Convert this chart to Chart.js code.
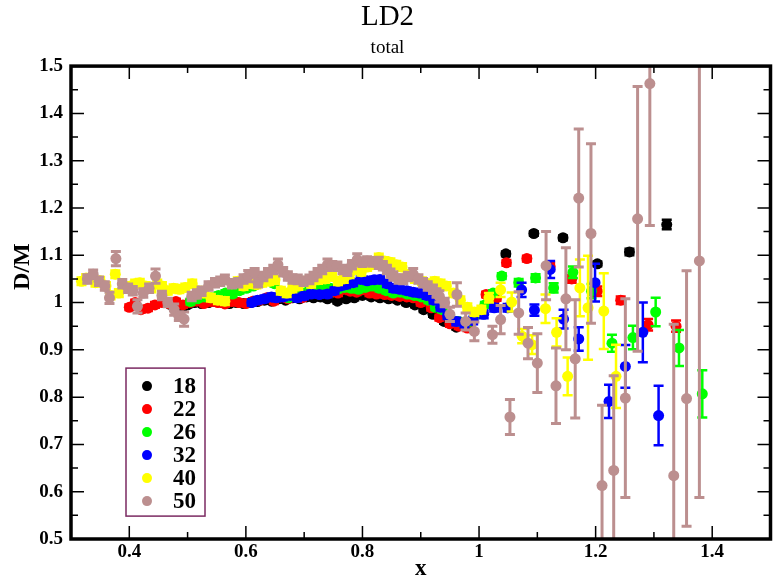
<!DOCTYPE html>
<html>
<head>
<meta charset="utf-8">
<title>LD2 total</title>
<script src="https://cdn.jsdelivr.net/npm/chart.js@4.4.1/dist/chart.umd.min.js"></script>
<style>
  html, body { margin: 0; padding: 0; background: #fff; overflow: hidden; }
  canvas { display: block; }
</style>
</head>
<body>
<canvas id="chart" width="776" height="584"></canvas>
<script>
// series labels and colours
const seriesLabels = ["18", "22", "26", "32", "40", "50"];
const seriesColors = ["#000000", "#ff0000", "#00ff00", "#0000ff", "#ffff00", "#bc8f8f"];

// tick values and labels
const xTicks = [0.4, 0.6, 0.8, 1.0, 1.2, 1.4];
const xTickLabels = ["0.4", "0.6", "0.8", "1", "1.2", "1.4"];
const yTicks = [0.5, 0.6, 0.7, 0.8, 0.9, 1.0, 1.1, 1.2, 1.3, 1.4, 1.5];
const yTickLabels = ["0.5", "0.6", "0.7", "0.8", "0.9", "1", "1.1", "1.2", "1.3", "1.4", "1.5"];

// 18
const x18 = [0.470,0.480,0.490,0.500,0.512,0.524,0.536,0.548,0.560,0.572,0.584,0.596,0.608,0.620,0.632,0.644,0.656,0.668,0.680,0.692,0.704,0.716,0.728,0.740,
  0.757,0.772,0.786,0.800,0.815,0.830,0.845,0.860,0.875,0.890,0.905,0.921,0.940,0.961,0.980,1.005,1.025,1.046,1.094,1.144,1.203,1.258,1.322];
const y18 = [0.996,0.992,0.988,0.995,1.000,0.998,1.000,1.002,1.000,0.998,1.000,0.998,1.000,1.002,1.005,1.003,1.008,1.005,1.010,1.008,1.012,1.010,1.012,1.008,
  1.003,1.008,1.010,1.015,1.012,1.010,1.008,1.005,1.000,0.995,0.985,0.975,0.960,0.948,0.955,0.985,1.000,1.103,1.146,1.137,1.082,1.107,1.165];
const e18 = [0.005,0.005,0.005,0.005,0.005,0.005,0.005,0.005,0.005,0.005,0.005,0.005,0.005,0.005,0.005,0.005,0.005,0.005,0.005,0.005,0.005,0.005,0.005,0.005,
  0.005,0.005,0.005,0.005,0.005,0.005,0.005,0.005,0.005,0.005,0.005,0.005,0.005,0.005,0.005,0.005,0.005,0.005,0.005,0.005,0.005,0.007,0.010];

// 22
const x22 = [0.400,0.410,0.420,0.432,0.444,0.456,0.468,0.480,0.492,0.504,0.516,0.528,0.540,0.552,0.564,0.576,0.588,0.600,0.612,0.624,0.636,0.648,0.660,0.672,0.684,0.696,0.708,0.720,
  0.734,0.746,0.758,0.770,0.779,0.790,0.800,0.812,0.824,0.838,0.850,0.864,0.876,0.887,0.900,0.918,0.932,0.950,0.965,0.980,0.995,1.012,1.030,
  1.047,1.082,1.122,1.159,1.203,1.243,1.290,1.338];
const y22 = [0.990,1.000,0.985,0.988,0.995,1.000,0.998,1.002,0.995,1.000,1.003,0.998,1.002,1.000,0.997,1.002,1.000,0.998,1.003,1.005,1.010,1.003,1.012,1.008,1.015,1.010,1.020,1.025,
  1.031,1.025,1.020,1.028,1.024,1.022,1.027,1.020,1.018,1.017,1.015,1.013,1.012,1.010,1.000,0.989,0.968,0.955,0.950,0.946,0.975,1.017,1.010,
  1.084,1.093,1.076,1.050,1.024,1.005,0.953,0.950];
const e22 = [0.006,0.006,0.006,0.006,0.006,0.006,0.006,0.006,0.006,0.006,0.006,0.006,0.006,0.006,0.006,0.006,0.006,0.006,0.006,0.006,0.006,0.006,0.006,0.006,0.006,0.006,0.006,0.006,
  0.006,0.006,0.006,0.006,0.006,0.006,0.006,0.006,0.006,0.006,0.006,0.006,0.006,0.006,0.006,0.006,0.006,0.006,0.006,0.006,0.006,0.006,0.006,
  0.006,0.006,0.008,0.008,0.010,0.008,0.012,0.012];

// 26
const x26 = [0.505,0.517,0.529,0.541,0.553,0.565,0.577,0.589,0.601,0.613,0.625,0.637,0.649,0.661,0.673,0.685,0.697,0.709,0.721,0.733,0.745,0.757,0.769,0.781,0.793,0.805,0.817,0.829,0.841,0.853,0.865,0.877,0.889,0.901,0.913,0.925,0.937,
  0.950,0.965,0.980,0.995,1.010,1.024,1.039,1.068,1.097,1.128,1.161,1.193,1.228,1.264,1.303,1.343,1.383];
const y26 = [1.002,1.008,1.012,1.010,1.015,1.020,1.018,1.025,1.030,1.035,1.045,1.055,1.040,1.020,1.010,1.015,1.020,1.025,1.030,1.035,1.030,1.028,1.032,1.030,1.028,1.032,1.035,1.030,1.025,1.020,1.022,1.018,1.015,1.012,1.005,0.990,0.985,
  0.970,0.960,0.958,0.975,0.995,1.020,1.056,1.042,1.052,1.031,1.064,1.024,0.914,0.926,0.980,0.904,0.807];
const e26 = [0.006,0.006,0.006,0.006,0.006,0.006,0.006,0.006,0.006,0.006,0.006,0.006,0.006,0.006,0.006,0.006,0.006,0.006,0.006,0.006,0.006,0.006,0.006,0.006,0.006,0.006,0.006,0.006,0.006,0.006,0.006,0.006,0.006,0.006,0.006,0.006,0.006,
  0.006,0.006,0.006,0.006,0.006,0.006,0.006,0.008,0.008,0.010,0.012,0.015,0.018,0.025,0.030,0.038,0.050];

// 32
const x32 = [0.610,0.620,0.632,0.644,0.652,0.664,0.676,0.688,0.700,0.712,0.726,0.740,0.752,0.762,0.772,0.784,0.797,0.808,0.820,0.830,0.842,0.853,0.864,0.876,0.887,0.898,0.910,0.922,0.934,0.946,
  0.961,0.975,0.990,1.008,1.026,1.049,1.073,1.095,1.122,1.145,1.171,1.199,1.223,1.251,1.281,1.308];
const y32 = [1.000,1.005,1.008,1.012,1.010,1.012,1.015,1.010,1.014,1.018,1.017,1.018,1.025,1.035,1.038,1.042,1.049,1.046,1.048,1.049,1.040,1.030,1.028,1.025,1.022,1.020,1.015,1.005,0.990,0.972,
  0.960,0.955,0.962,0.975,0.989,0.989,1.027,0.984,1.070,0.965,0.923,1.042,0.791,0.865,0.937,0.761];
const e32 = [0.007,0.007,0.007,0.007,0.007,0.007,0.007,0.007,0.007,0.007,0.007,0.007,0.007,0.007,0.007,0.007,0.007,0.007,0.007,0.007,0.007,0.007,0.007,0.007,0.007,0.007,0.007,0.007,0.007,0.007,
  0.008,0.008,0.008,0.008,0.008,0.008,0.015,0.012,0.018,0.020,0.025,0.040,0.035,0.045,0.063,0.063];

// 40
const x40 = [0.318,0.326,0.334,0.342,0.350,0.360,0.368,0.376,0.382,0.392,0.402,0.410,0.418,0.428,0.438,0.448,0.456,0.466,0.476,0.486,0.496,0.508,0.518,0.528,0.540,0.552,0.564,0.576,0.586,0.596,
  0.608,0.618,0.628,0.640,0.650,0.660,0.670,0.680,0.690,0.700,0.712,0.724,0.736,0.748,0.758,0.768,0.778,0.788,0.798,0.808,0.818,0.828,0.838,0.848,0.858,0.868,0.878,0.890,0.902,0.914,
  0.924,0.934,0.944,0.956,0.968,0.980,0.992,1.004,1.017,1.037,1.056,1.074,1.091,1.114,1.133,1.152,1.173,1.187,1.214,1.235];
const y40 = [1.045,1.052,1.050,1.042,1.046,1.035,1.015,1.060,1.020,1.030,1.035,1.040,1.042,1.035,1.030,1.040,1.035,1.025,1.030,1.028,1.032,1.040,1.025,1.020,1.010,1.005,1.003,1.040,1.045,1.035,
  1.040,1.038,1.042,1.045,1.048,1.025,1.020,1.030,1.035,1.045,1.040,1.048,1.050,1.055,1.045,1.050,1.060,1.070,1.065,1.075,1.080,1.095,1.088,1.085,1.080,1.075,1.060,1.050,1.045,1.040,
  1.045,1.040,1.035,1.020,1.005,0.990,0.980,0.985,1.010,1.027,1.001,0.929,0.911,0.987,0.937,0.844,1.031,0.989,0.982,0.844];
const e40 = [0.008,0.008,0.008,0.008,0.008,0.008,0.008,0.008,0.008,0.008,0.008,0.008,0.008,0.008,0.008,0.008,0.008,0.008,0.008,0.008,0.008,0.008,0.008,0.008,0.008,0.008,0.008,0.008,0.008,0.008,
  0.008,0.008,0.008,0.008,0.008,0.008,0.008,0.008,0.008,0.008,0.008,0.008,0.008,0.008,0.008,0.008,0.008,0.008,0.008,0.008,0.008,0.008,0.008,0.008,0.008,0.008,0.008,0.008,0.008,0.008,
  0.008,0.008,0.008,0.008,0.008,0.008,0.008,0.008,0.010,0.015,0.020,0.015,0.020,0.030,0.030,0.040,0.060,0.110,0.080,0.067];

// 50
const x50 = [0.328,0.338,0.348,0.358,0.366,0.377,0.388,0.398,0.406,0.414,0.424,0.434,0.445,0.456,0.466,0.477,0.485,0.494,0.507,0.516,0.524,0.536,0.547,0.556,0.564,0.576,0.587,0.596,0.604,0.615,
  0.621,0.630,0.638,0.647,0.655,0.664,0.672,0.680,0.689,0.699,0.709,0.716,0.723,0.731,0.740,0.748,0.757,0.766,0.774,0.782,0.791,0.800,0.808,0.818,0.828,0.835,0.842,0.848,0.853,0.862,
  0.870,0.878,0.887,0.896,0.904,0.912,0.921,0.927,0.932,0.941,0.950,0.962,0.977,0.992,1.023,1.037,1.053,1.068,1.084,1.100,1.115,1.132,1.149,1.165,1.171,1.192,1.211,1.231,1.251,1.272,
  1.293,1.334,1.356,1.378];
const y50 = [1.050,1.060,1.045,1.035,1.010,1.093,1.040,1.030,1.025,0.992,1.020,1.030,1.056,1.015,1.000,0.985,0.971,0.965,1.013,1.018,1.024,1.035,1.042,1.045,1.049,1.040,1.042,1.050,1.056,1.063,
  1.042,1.055,1.063,1.070,1.080,1.065,1.056,1.050,1.049,1.045,1.049,1.055,1.063,1.070,1.080,1.078,1.077,1.070,1.066,1.080,1.091,1.085,1.088,1.086,1.084,1.078,1.070,1.062,1.056,1.050,
  1.049,1.055,1.060,1.050,1.042,1.035,1.028,1.020,1.013,1.000,0.975,1.017,0.960,0.939,0.932,0.964,0.758,0.978,0.914,0.872,1.078,0.824,1.008,0.881,1.221,1.146,0.613,0.645,0.798,1.177,
  1.463,0.634,0.797,1.088];
const e50 = [0.009,0.009,0.009,0.009,0.012,0.015,0.009,0.009,0.009,0.014,0.009,0.009,0.015,0.009,0.009,0.012,0.009,0.015,0.009,0.009,0.009,0.009,0.009,0.009,0.009,0.009,0.009,0.009,0.012,0.009,
  0.009,0.009,0.009,0.009,0.012,0.009,0.009,0.009,0.009,0.009,0.009,0.009,0.009,0.009,0.012,0.009,0.009,0.009,0.009,0.009,0.012,0.009,0.009,0.009,0.012,0.009,0.009,0.009,0.009,0.009,
  0.009,0.009,0.012,0.009,0.009,0.009,0.009,0.009,0.012,0.009,0.015,0.025,0.018,0.020,0.018,0.030,0.037,0.045,0.033,0.062,0.072,0.080,0.108,0.125,0.146,0.190,0.170,0.200,0.210,0.280,
  0.300,0.320,0.270,0.500];

const xs = [x18, x22, x26, x32, x40, x50];
const ys = [y18, y22, y26, y32, y40, y50];
const es = [e18, e22, e26, e32, e40, e50];

const serif = "'Liberation Serif', 'Times New Roman', Times, serif";

// vertical error bars, drawn just before each dataset's markers
const errorBars = {
  id: "errorBars",
  beforeDatasetDraw(chart, args) {
    const ds = chart.data.datasets[args.index];
    const { ctx, chartArea: a } = chart;
    const xS = chart.scales.x, yS = chart.scales.y;
    ctx.save();
    ctx.beginPath();
    ctx.rect(a.left, a.top, a.right - a.left, a.bottom - a.top);
    ctx.clip();
    ctx.strokeStyle = ds.borderColor;
    ctx.lineWidth = ds.barWidth;
    ds.data.forEach((p, i) => {
      const e = ds.errors[i];
      const px = xS.getPixelForValue(p.x);
      const t = yS.getPixelForValue(p.y + e);
      const b = yS.getPixelForValue(p.y - e);
      ctx.beginPath();
      ctx.moveTo(px, t); ctx.lineTo(px, b);
      ctx.moveTo(px - 5, t); ctx.lineTo(px + 5, t);
      ctx.moveTo(px - 5, b); ctx.lineTo(px + 5, b);
      ctx.stroke();
    });
    ctx.restore();
  }
};

// frame with inward major / minor ticks on all four sides
const frame = {
  id: "frame",
  afterDatasetsDraw(chart) {
    const { ctx, chartArea: a } = chart;
    const xS = chart.scales.x, yS = chart.scales.y;
    ctx.save();
    ctx.strokeStyle = "#000";
    ctx.lineWidth = 1.5;
    ctx.beginPath();
    xTicks.forEach((v, i) => {
      const p = xS.getPixelForValue(v);
      ctx.moveTo(p, a.bottom); ctx.lineTo(p, a.bottom - 13);
      ctx.moveTo(p, a.top); ctx.lineTo(p, a.top + 13);
      if (i > 0) {
        const m = xS.getPixelForValue((v + xTicks[i - 1]) / 2);
        ctx.moveTo(m, a.bottom); ctx.lineTo(m, a.bottom - 7);
        ctx.moveTo(m, a.top); ctx.lineTo(m, a.top + 7);
      }
    });
    const m0 = xS.getPixelForValue(xTicks[xTicks.length - 1] + 0.1);
    ctx.moveTo(m0, a.bottom); ctx.lineTo(m0, a.bottom - 7);
    ctx.moveTo(m0, a.top); ctx.lineTo(m0, a.top + 7);
    yTicks.forEach((v, i) => {
      const p = yS.getPixelForValue(v);
      ctx.moveTo(a.left, p); ctx.lineTo(a.left + 13, p);
      ctx.moveTo(a.right, p); ctx.lineTo(a.right - 13, p);
      if (i > 0) {
        const m = yS.getPixelForValue((v + yTicks[i - 1]) / 2);
        ctx.moveTo(a.left, m); ctx.lineTo(a.left + 7, m);
        ctx.moveTo(a.right, m); ctx.lineTo(a.right - 7, m);
      }
    });
    ctx.stroke();
    ctx.lineWidth = 3.5;
    ctx.strokeRect(a.left, a.top, a.right - a.left, a.bottom - a.top);
    ctx.restore();
  }
};

// boxed legend inside the plot, lower left
const legendBox = {
  id: "legendBox",
  afterDraw(chart) {
    const { ctx, chartArea: a } = chart;
    const left = a.left + 55, top = a.top + 302, w = 79, h = 148;
    ctx.save();
    ctx.fillStyle = "#fff";
    ctx.fillRect(left, top, w, h);
    ctx.strokeStyle = "#7b2a62";
    ctx.lineWidth = 1.5;
    ctx.strokeRect(left, top, w, h);
    ctx.font = "bold 23px " + serif;
    ctx.textBaseline = "middle";
    ctx.textAlign = "left";
    seriesLabels.forEach((lab, i) => {
      const cy = top + 18 + i * 23;
      ctx.fillStyle = seriesColors[i];
      ctx.beginPath();
      ctx.arc(left + 21, cy, 5, 0, Math.PI * 2);
      ctx.fill();
      ctx.fillStyle = "#000";
      ctx.fillText(lab, left + 47, cy + 1);
    });
    ctx.restore();
  }
};

const ctx = document.getElementById("chart");

new Chart(ctx, {
  type: "scatter",
  data: {
    datasets: seriesLabels.map((lab, i) => ({
      label: lab,
      data: xs[i].map((x, j) => ({ x: x, y: ys[i][j] })),
      errors: es[i],
      barWidth: i === 5 ? 3 : 2.5,
      backgroundColor: seriesColors[i],
      borderColor: seriesColors[i],
      borderWidth: 0,
      pointRadius: 5.5,
      pointHoverRadius: 5.5,
      order: seriesLabels.length - i
    }))
  },
  options: {
    responsive: false,
    animation: false,
    events: [],
    layout: { padding: { left: 0, right: 1, top: 0, bottom: 0 } },
    plugins: {
      legend: { display: false },
      tooltip: { enabled: false },
      title: {
        display: true,
        text: "LD2",
        color: "#000",
        font: { family: serif, size: 29, weight: "normal", lineHeight: 1.2 },
        padding: { top: 0, bottom: 0 }
      },
      subtitle: {
        display: true,
        text: "total",
        color: "#000",
        font: { family: serif, size: 19, weight: "normal", lineHeight: 1.2 },
        padding: { top: 1.5, bottom: 7 }
      }
    },
    scales: {
      x: {
        type: "linear",
        min: 0.3,
        max: 1.5,
        grid: { display: false, drawTicks: false },
        border: { display: false },
        afterBuildTicks: s => { s.ticks = xTicks.map(v => ({ value: v })); },
        afterFit: s => { s.height = 45; },
        ticks: {
          padding: 2,
          color: "#000",
          maxRotation: 0,
          autoSkip: false,
          font: { family: serif, size: 19, weight: "bold" },
          callback: (v, i) => xTickLabels[i]
        },
        title: {
          display: true,
          text: "x",
          color: "#000",
          font: { family: serif, size: 23, weight: "bold" },
          padding: { top: 0, bottom: 1 }
        }
      },
      y: {
        type: "linear",
        min: 0.5,
        max: 1.5,
        grid: { display: false, drawTicks: false },
        border: { display: false },
        afterBuildTicks: s => { s.ticks = yTicks.map(v => ({ value: v })); },
        afterFit: s => { s.width = 71; },
        ticks: {
          padding: 8,
          color: "#000",
          autoSkip: false,
          font: { family: serif, size: 19, weight: "bold" },
          callback: (v, i) => yTickLabels[i]
        },
        title: {
          display: true,
          // leading spaces lift the label above the axis middle, as in the original
          text: "            D/M",
          color: "#000",
          font: { family: serif, size: 24, weight: "bold" },
          padding: { top: 8, bottom: 0 }
        }
      }
    }
  },
  plugins: [errorBars, frame, legendBox]
});
</script>
</body>
</html>
